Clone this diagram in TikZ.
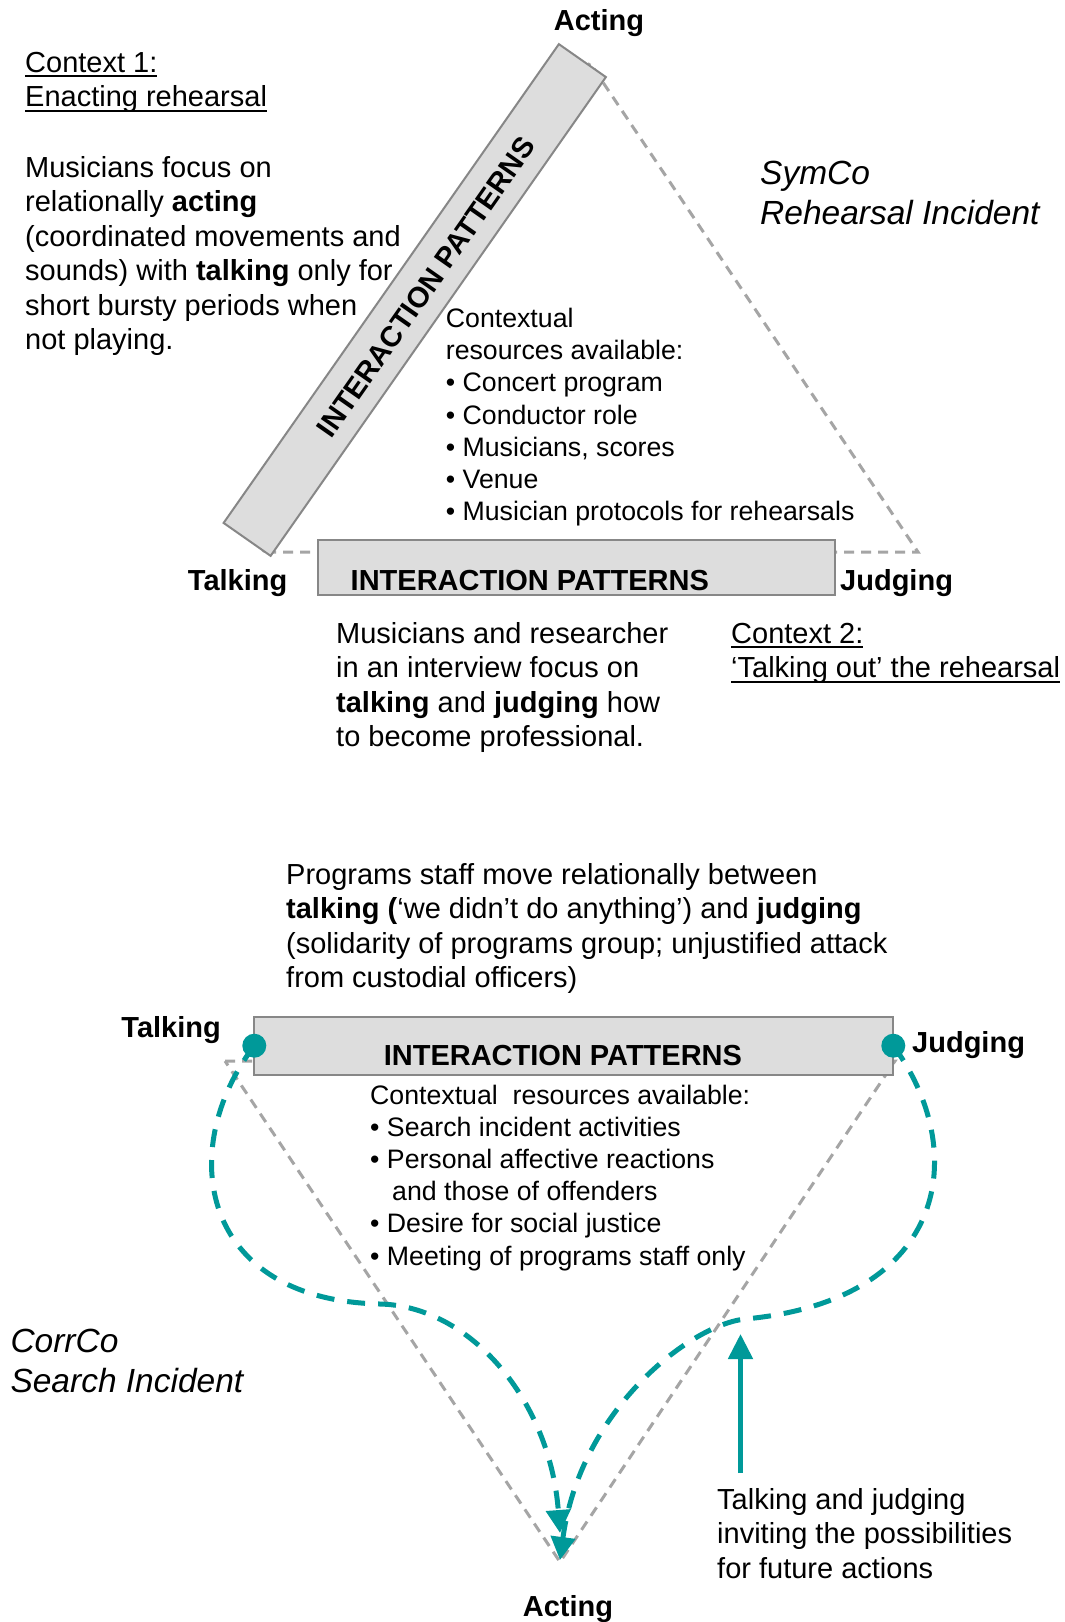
\documentclass[tikz,border=0pt]{standalone}
\usepackage{fontspec}
\setmainfont{Liberation Sans}
\usetikzlibrary{arrows.meta}

\definecolor{tealline}{RGB}{0,153,153}
\definecolor{boxfill}{RGB}{221,221,221}
\definecolor{boxedge}{RGB}{135,135,135}
\definecolor{guide}{RGB}{165,165,165}

% underline with a firm rule just below the baseline
\newcommand\myul[1]{\leavevmode\setbox0\hbox{#1}\rlap{\rule[-5pt]{\wd0}{1.8pt}}\box0}

\begin{document}
\begin{tikzpicture}[x=1pt,y=-1pt,
  ipbox/.style={draw=boxedge, fill=boxfill, line width=2pt, inner sep=0pt},
  pole/.style={font=\fontsize{29}{34}\selectfont\bfseries, inner sep=0pt},
  body/.style={font=\fontsize{29}{34.5}\selectfont, inner sep=0pt, anchor=base west},
  resource/.style={font=\fontsize{26.7}{32.2}\selectfont, inner sep=0pt, anchor=base west},
  incident/.style={font=\fontsize{33.5}{40.5}\selectfont\itshape, inner sep=0pt, anchor=base west},
  guideline/.style={guide, line width=3pt, dash pattern=on 10pt off 7pt},
  flow/.style={tealline, line width=5pt, dash pattern=on 18pt off 13pt,
    -{Triangle[length=23pt,width=24pt]}},
  dot/.style={circle, fill=tealline, minimum size=24pt, inner sep=0pt}]

\fill[white] (0,0) rectangle (1065,1622);
\useasboundingbox (0,0) rectangle (1065,1622);

% ---------- upper triangle: SymCo rehearsal ----------
\coordinate (tT) at (263,552);
\coordinate (tA) at (590,63);
\coordinate (tJ) at (918,552);
\draw[guideline] (tT) -- (tA) -- (tJ) -- cycle;

\node[ipbox, minimum width=584.5pt, minimum height=57.4pt, rotate=55] (rbox) at (414.75,300) {};
\node[pole, rotate=55] (rlab) at (426,287) {INTERACTION PATTERNS};

\node[ipbox, minimum width=517pt, minimum height=55pt] (mbox) at (576.5,567.5) {};
\node[pole, anchor=base west] (mlab) at (350.5,590) {INTERACTION PATTERNS};

\node[pole, anchor=base] (actTop) at (599,30) {Acting};
\node[pole, anchor=base east] (talkTop) at (287.5,590) {Talking};
\node[pole, anchor=base west] (judgTop) at (840,590) {Judging};

\node[body] (ctx1) at (25,72) {\parbox[t]{320pt}{\myul{Context 1:}\\\myul{Enacting rehearsal}}};

\node[body] (enact) at (25,177) {\parbox[t]{420pt}{\raggedright
  Musicians focus on\\
  relationally \textbf{acting}\\
  (coordinated movements and\\
  sounds) with \textbf{talking} only for\\
  short bursty periods when\\
  not playing.}};

\node[incident] (symco) at (760,184) {\parbox[t]{300pt}{SymCo\\Rehearsal Incident}};

\node[resource] (resTop) at (445.7,327.5) {\parbox[t]{440pt}{\raggedright
  Contextual\\
  resources available:\\
  • Concert program\\
  • Conductor role\\
  • Musicians, scores\\
  • Venue\\
  • Musician protocols for rehearsals}};

\node[body] (talkout) at (336,643) {\parbox[t]{360pt}{\raggedright
  Musicians and researcher\\
  in an interview focus on\\
  \textbf{talking} and \textbf{judging} how\\
  to become professional.}};

\node[body] (ctx2) at (731,643) {\parbox[t]{330pt}{\myul{Context 2:}\\\myul{‘Talking out’ the rehearsal}}};

% ---------- lower triangle: CorrCo search ----------
\coordinate (bT) at (225,1061);
\coordinate (bJ) at (895,1061);
\coordinate (bA) at (560,1562);
\draw[guideline] (bT) -- (bJ) -- (bA) -- cycle;

\node[body] (staff) at (286,884) {\parbox[t]{660pt}{\raggedright
  Programs staff move relationally between\\
  \textbf{talking (}‘we didn’t do anything’) and \textbf{judging}\\
  (solidarity of programs group; unjustified attack\\
  from custodial officers)}};

\node[ipbox, minimum width=639.4pt, minimum height=57.5pt] (bbox) at (573.7,1046.2) {};
\node[pole, anchor=base west] (blab) at (383.6,1065) {INTERACTION PATTERNS};

\node[pole, anchor=base east] (talkBot) at (221,1037) {Talking};
\node[pole, anchor=base west] (judgBot) at (912,1052) {Judging};
\node[pole, anchor=base] (actBot) at (568,1616) {Acting};

\node[resource] (resBot) at (370,1104) {\parbox[t]{440pt}{\raggedright
  Contextual\ \ resources available:\\
  • Search incident activities\\
  • Personal affective reactions\\
  \hspace*{22pt}and those of offenders\\
  • Desire for social justice\\
  • Meeting of programs staff only}};

\node[incident] (corrco) at (10.3,1352) {\parbox[t]{300pt}{CorrCo\\Search Incident}};

% dashed flows from talking and judging down to acting
\coordinate (cT) at (254.3,1045.7);
\coordinate (cJ) at (893.3,1045.7);
\coordinate (lowL) at (380,1304);
\coordinate (lowR) at (745,1319);
\coordinate (tipL) at (560,1533);
\coordinate (tipR) at (560,1560);
\draw[flow] (cT) .. controls (175,1150) and (200,1300) .. (lowL)
  .. controls (470,1306) and (550,1400) .. (tipL);
\draw[flow] (cJ) .. controls (970,1150) and (950,1300) .. (lowR)
  .. controls (690,1325) and (580,1410) .. (tipR);

\node[dot] (dT) at (cT) {};
\node[dot] (dJ) at (cJ) {};

% pointer to the crossing of the flows
\coordinate (ub) at (740.5,1473);
\coordinate (ut) at (740.5,1334);
\draw[tealline, line width=5pt, -{Triangle[length=25pt,width=24pt]}] (ub) -- (ut);

\node[body] (future) at (717,1509) {\parbox[t]{345pt}{\raggedright
  Talking and judging\\
  inviting the possibilities\\
  for future actions}};

\end{tikzpicture}
\end{document}
